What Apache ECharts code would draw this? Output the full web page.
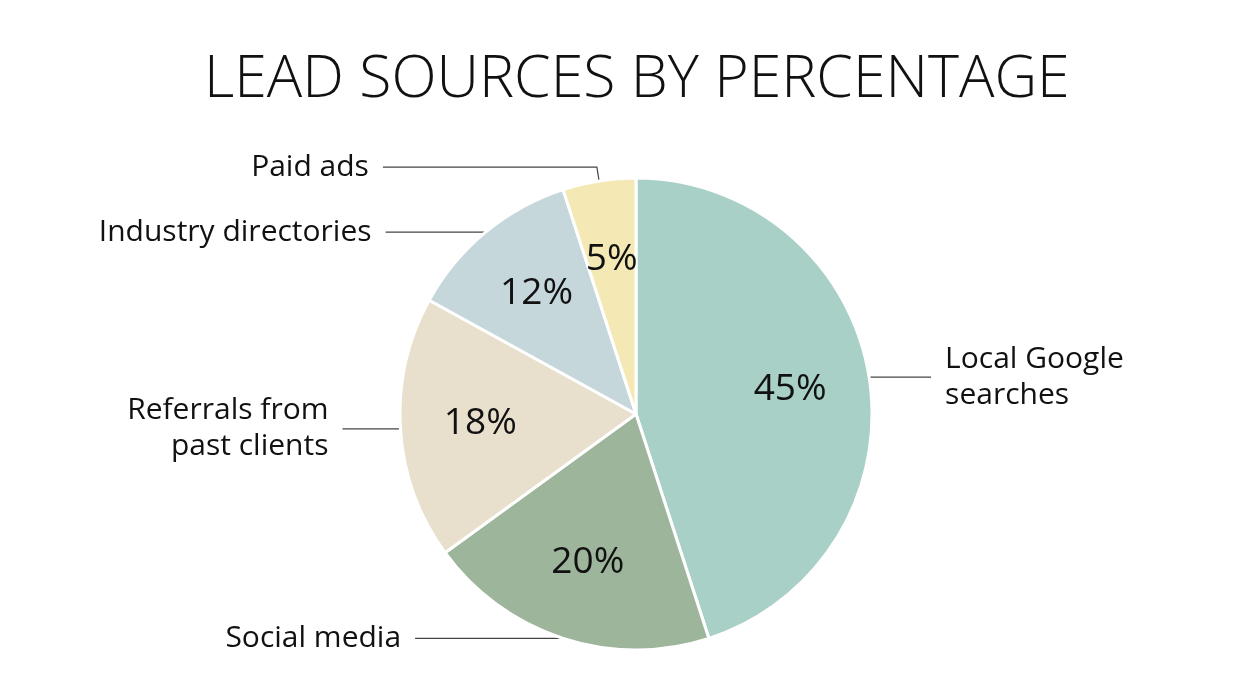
<!DOCTYPE html>
<html>
<head>
<meta charset="utf-8">
<script src="https://cdn.jsdelivr.net/npm/echarts@6/dist/echarts.min.js"></script>
<style>
  html, body { margin: 0; padding: 0; background: #fff; }
  #chart { width: 1252px; height: 700px; }
</style>
</head>
<body>
<div id="chart"></div>
<script>
// 数据
const sources = ['Local Google\nsearches', 'Social media', 'Referrals from\npast clients', 'Industry directories', 'Paid ads'];
const shares = [45, 20, 18, 12, 5];
const sliceColors = ['#a8d0c7', '#9db59b', '#e8dfcc', '#c6d7dc', '#f4e9b4'];

// 每个标签线的长度
const lineLen = [0, 0, 0, 0, 14];
const lineLen2 = [62, 148, 58, 100, 214];

const font = '"Open Sans", "Noto Sans", sans-serif';

const chart = echarts.init(document.getElementById('chart'));

const option = {
    backgroundColor: '#fff',
    title: {
        text: 'LEAD SOURCES BY PERCENTAGE',
        left: 199,
        top: 46,
        textStyle: {
            fontFamily: font,
            fontWeight: 300,
            fontSize: 59,
            color: '#111'
        }
    },
    series: [
        {
            // 主体饼图 + 外部标签
            type: 'pie',
            center: [636, 414],
            radius: 236,
            startAngle: 90,
            clockwise: true,
            silent: true,
            itemStyle: { borderColor: '#fff', borderWidth: 3 },
            label: {
                show: true,
                position: 'outside',
                formatter: '{b}',
                fontFamily: font,
                fontSize: 30,
                lineHeight: 36,
                color: '#111',
                distanceToLabelLine: 14
            },
            labelLine: {
                show: true,
                lineStyle: { color: '#444', width: 1.2 }
            },
            data: sources.map((name, i) => ({
                name: name,
                value: shares[i],
                itemStyle: { color: sliceColors[i] },
                labelLine: { length: lineLen[i], length2: lineLen2[i] }
            }))
        },
        {
            // 百分比标签
            type: 'pie',
            center: [636, 414],
            radius: [76, 230],
            startAngle: 90,
            clockwise: true,
            silent: true,
            itemStyle: { color: 'rgba(0,0,0,0)' },
            label: {
                show: true,
                position: 'inside',
                formatter: p => p.value + '%',
                fontFamily: font,
                fontSize: 37,
                color: '#111'
            },
            labelLine: { show: false },
            data: sources.map((name, i) => ({ name: name, value: shares[i] }))
        }
    ]
};

option && chart.setOption(option);
</script>
</body>
</html>
